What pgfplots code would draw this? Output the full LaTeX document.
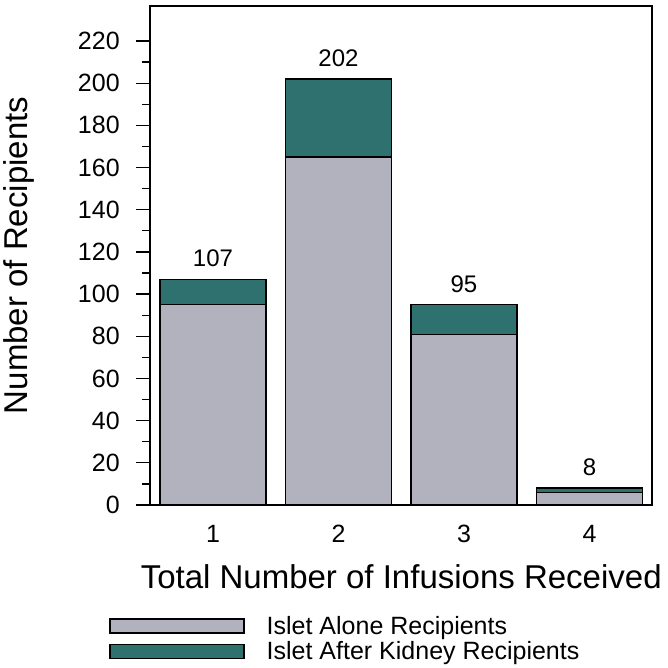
\documentclass[border=0pt]{standalone}
\usepackage{pgfplots}
\pgfplotsset{compat=1.18}
\usepackage{fontspec}
\setmainfont{Liberation Sans}
\definecolor{islgray}{RGB}{178,178,190}
\definecolor{islteal}{RGB}{46,113,110}
\newcommand{\tkfont}{\fontsize{25}{29}\selectfont}
\newcommand{\valfont}{\fontsize{24}{28}\selectfont}
\begin{document}
\begin{tikzpicture}
\begin{axis}[
 name=ax,
 scale only axis, width=502pt, height=499pt,
 xmin=0.5, xmax=4.5, ymin=0, ymax=236.6,
 ybar stacked, bar width=106pt,
 xtick={1,2,3,4}, ytick={0,20,...,220}, minor y tick num=1,
 xticklabels={1,2,3,4},
 yticklabels={0,20,40,60,80,100,120,140,160,180,200,220},
 ytick pos=left, xtick pos=bottom,
 tick align=outside, major tick length=14pt, minor tick length=8pt,
 xtick style={draw=none},
 axis line style={line width=1.6pt},
 y tick style={line width=1.3pt, black},
 yticklabel style={xshift=-13pt, font=\tkfont},
 xticklabel style={yshift=-3pt, font=\tkfont},
 xlabel={Total Number of Infusions Received},
 ylabel={Number of Recipients},
 xlabel style={font=\fontsize{33}{38}\selectfont, at={(axis description cs:0.5,-0.1683)}, anchor=base},
 ylabel style={font=\fontsize{33}{38}\selectfont, at={(axis description cs:-0.245,0.5)}, anchor=base},
 legend style={at={(axis description cs:-0.0817,-0.2182)}, anchor=north west, draw=none, fill=none,
   font=\fontsize{25}{29}\selectfont, inner sep=0pt, row sep=2pt},
 legend cell align=left,
 legend image code/.code={\draw[#1, line width=1.3pt] (0pt,-7pt) rectangle (134pt,7pt);},
 legend columns=1,
]
\addplot[fill=islgray, draw=black, line width=1.3pt] coordinates {(1,95) (2,165) (3,81) (4,6)};
\addlegendentry{\hspace{20pt}Islet Alone Recipients}
\addplot[fill=islteal, draw=black, line width=1.3pt] coordinates {(1,12) (2,37) (3,14) (4,2)};
\addlegendentry{\hspace{20pt}Islet After Kidney Recipients}
\end{axis}
\begin{axis}[
 scale only axis, width=502pt, height=499pt,
 xmin=0.5, xmax=4.5, ymin=0, ymax=236.6,
 hide axis, ybar, bar width=106pt,
 /pgf/number format/assume math mode=true,
]
\addplot[draw=none, fill=none, nodes near coords,
  nodes near coords style={anchor=south, inner sep=0pt, yshift=12pt, font=\valfont, text=black}]
  coordinates {(1,107) (2,202) (3,95) (4,8)};
\end{axis}
\path (ax.south west) ++(-150pt,-163pt);
\path (ax.north east) ++(15pt,6pt);
\end{tikzpicture}
\end{document}
